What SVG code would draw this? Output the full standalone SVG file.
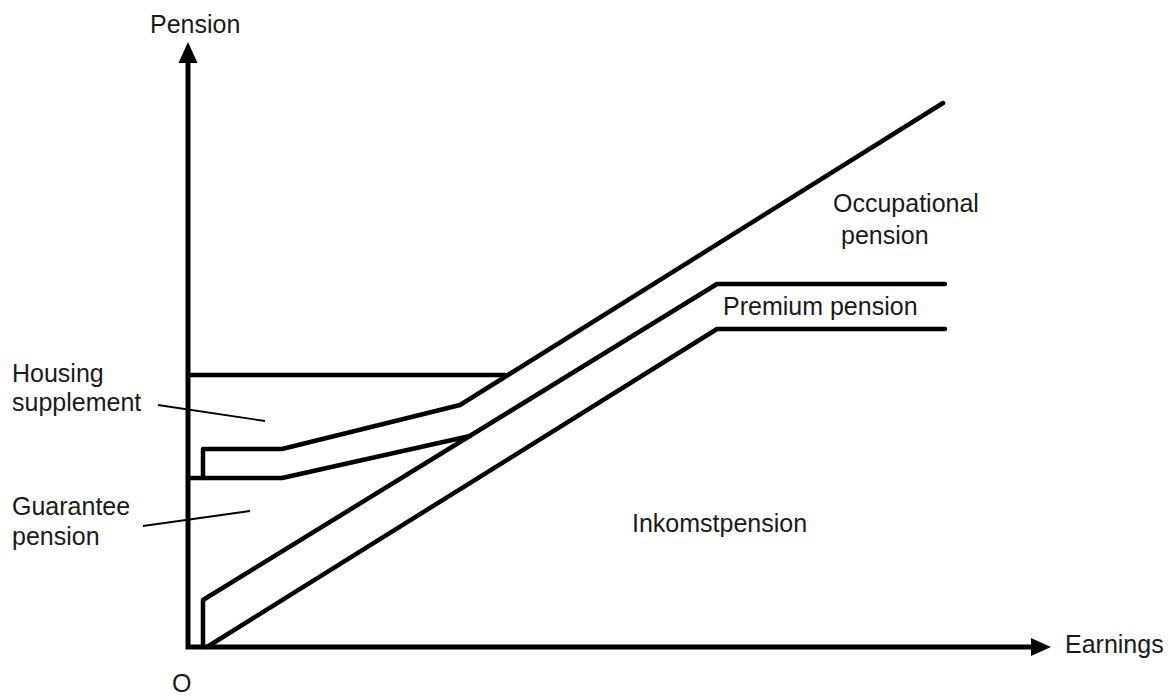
<svg xmlns="http://www.w3.org/2000/svg" width="1170" height="700" viewBox="0 0 1170 700">
<style>
.t{font-family:"Liberation Sans",Arial,sans-serif;font-size:25px;fill:#1a1a1a}
.ax{stroke:#000;stroke-width:5;fill:none;stroke-linecap:square}
.ln{stroke:#000;stroke-width:4.5;fill:none;stroke-linejoin:round;stroke-linecap:round}
.ld{stroke:#000;stroke-width:1.8;fill:none}
</style>
<rect width="1170" height="700" fill="#fff"/>
<g id="axes">
<polyline class="ax" points="188,60 188,647 1034,647"/>
<polygon points="188,42 178.5,63 197.5,63" fill="#000"/>
<polygon points="1051,647 1031,638 1031,656" fill="#000"/>
</g>
<g id="curves">
<polyline class="ln" points="188,375 505,375"/>
<polyline class="ln" points="203,478 203,449 282,449 460,405 943,103"/>
<polyline class="ln" points="188,478 282,478 470,436"/>
<polyline class="ln" points="203,647 203,600 717,284 945,284"/>
<polyline class="ln" points="207,647 717,329 945,329"/>
</g>
<g id="leaders">
<line class="ld" x1="158" y1="405" x2="265" y2="421"/>
<line class="ld" x1="143" y1="526" x2="250" y2="511"/>
</g>
<g id="labels">
<text class="t" x="150" y="33">Pension</text>
<text class="t" x="1065" y="653">Earnings</text>
<text class="t" x="833" y="212">Occupational</text>
<text class="t" x="841" y="244">pension</text>
<text class="t" x="723" y="315">Premium pension</text>
<text class="t" x="12" y="382">Housing</text>
<text class="t" x="12" y="411">supplement</text>
<text class="t" x="12" y="515">Guarantee</text>
<text class="t" x="12" y="545">pension</text>
<text class="t" x="632" y="532">Inkomstpension</text>
<text class="t" x="172" y="692" style="font-size:25px">O</text>
</g>
</svg>
